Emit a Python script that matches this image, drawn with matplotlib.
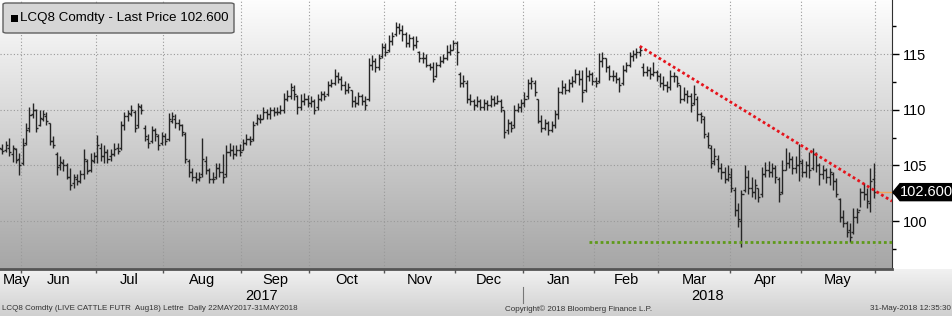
import numpy as np
import pandas as pd
import matplotlib
matplotlib.use("Agg")
import matplotlib.pyplot as plt
import matplotlib.transforms as mtransforms
from matplotlib.patches import FancyBboxPatch, Polygon

plt.rcParams['font.family'] = ['Liberation Sans', 'DejaVu Sans']

# jours de bourse (CME) du 22 mai 2017 au 31 mai 2018
holidays = ['2017-05-29', '2017-07-04', '2017-09-04', '2017-11-23', '2017-12-25',
            '2018-01-01', '2018-01-15', '2018-02-19', '2018-03-30', '2018-05-28']
dates = pd.bdate_range('2017-05-22', '2018-05-31')
dates = dates[~dates.isin(pd.to_datetime(holidays))]

# OHLC (LCQ8)
open_ = [106.9, 106.5, 106.4, 106.6, 106.0, 106.5, 105.6,
         105.2, 107.0, 108.4, 109.6, 110.0, 108.6, 109.2, 109.4, 108.8, 107.2, 106.0, 105.0, 105.2, 105.0,
         104.0, 103.4, 103.8, 103.6, 104.2, 105.4, 104.6, 105.4,
         105.8, 106.6, 105.8, 106.2, 105.8, 106.0, 106.6, 106.6, 108.6, 109.4, 109.6, 109.8, 108.6, 110.2,
         108.4, 107.4, 107.2, 108.2, 107.6, 107.0,
         107.6, 107.4, 109.0, 109.2, 108.8, 108.6, 107.8, 105.4, 104.4, 104.0, 103.8, 104.2, 105.4, 104.6,
         103.8, 104.0, 104.8, 104.4, 104.2, 106.2, 106.4, 106.0, 106.4,
         106.4, 107.0, 107.4, 107.4, 108.8, 109.2, 109.2, 109.8, 109.6, 110.0, 109.8, 109.8, 110.0, 111.0,
         111.2, 111.8, 111.2, 110.2, 110.8, 111.0,
         110.6, 110.8, 110.2, 111.0, 111.4, 111.4, 112.2, 112.4, 113.0, 112.8, 112.2, 111.8, 111.8, 110.8,
         110.6, 111.2, 110.8, 111.0, 114.0, 114.4, 113.8, 114.8,
         115.6, 115.4, 116.2, 116.8, 117.4, 117.2, 116.8, 116.0, 116.4, 115.8, 115.2, 114.6, 114.6, 114.0,
         113.8, 113.0, 114.0, 114.4, 114.6, 115.2, 115.4,
         116.0, 113.2, 112.4, 112.4, 111.0, 110.8, 110.4, 110.8, 110.2, 110.6, 110.4, 111.0, 110.6, 110.8,
         110.0, 108.2, 108.8, 108.6, 110.0, 110.2,
         110.6, 111.2, 112.4, 112.4, 111.0, 109.0, 108.4, 108.8, 108.2, 108.6, 109.6, 111.6, 112.0, 111.8,
         112.4, 112.6, 113.2, 112.8, 111.8, 113.0, 113.2,
         112.6, 112.6, 114.4, 114.6, 113.8, 113.0, 113.0, 112.8, 112.4, 113.6, 114.0, 114.8, 115.0, 115.2,
         113.8, 113.4, 113.6, 113.2, 113.4,
         113.0, 112.4, 112.2, 112.0, 113.0, 113.0, 112.2, 111.0, 111.4, 111.2, 110.6, 111.0, 109.6, 109.2,
         107.6, 106.6, 105.4, 105.6, 104.8, 104.4, 103.8,
         104.0, 102.8, 101.0, 100.0, 102.8, 104.0, 103.0, 102.6, 103.0, 102.4, 104.2, 104.6, 104.4, 104.8,
         103.8, 102.6, 104.6, 105.2, 105.6, 104.8, 105.0,
         105.2, 104.4, 105.0, 104.8, 106.0, 105.0, 104.2, 104.6, 104.0, 104.2, 103.6, 102.0, 100.4, 99.8,
         99.2, 99.0, 100.4, 101.0, 102.6, 102.4, 101.6, 103.8]
high = [107.1, 106.9, 107.2, 107.5, 106.8, 106.6, 106.1,
        107.5, 108.8, 110.2, 110.6, 110.1, 110.0, 110.0, 109.8, 108.8, 107.6, 106.2, 105.8, 105.6, 105.2,
        104.8, 104.2, 104.2, 104.6, 106.5, 105.6, 106.1, 106.2,
        107.7, 107.0, 106.8, 106.5, 106.5, 107.0, 107.0, 109.0, 109.8, 110.0, 110.4, 110.0, 110.6, 110.5,
        108.6, 107.8, 108.5, 108.4, 107.8, 108.0,
        107.9, 109.7, 109.8, 109.6, 109.2, 108.7, 108.0, 105.6, 104.8, 104.4, 104.4, 107.5, 105.8, 104.8,
        104.4, 105.2, 105.2, 106.0, 106.8, 107.0, 106.8, 106.8, 106.9,
        107.4, 107.8, 107.6, 109.0, 109.6, 109.6, 110.2, 110.1, 110.2, 110.2, 110.2, 110.4, 111.5, 111.8,
        112.4, 112.2, 111.3, 111.4, 111.5, 111.3,
        111.2, 111.0, 111.4, 111.7, 111.7, 112.6, 112.8, 113.7, 113.4, 113.0, 112.6, 112.4, 111.8, 111.2,
        111.6, 111.4, 111.2, 114.6, 114.9, 114.6, 115.0, 116.0,
        116.0, 116.7, 117.0, 117.9, 117.8, 117.6, 117.0, 116.8, 116.6, 116.6, 115.3, 115.2, 115.0, 114.2,
        114.3, 114.3, 114.8, 115.0, 115.8, 115.9, 116.3,
        116.2, 113.4, 113.1, 112.7, 111.4, 111.0, 111.2, 111.0, 111.0, 110.9, 111.3, 111.2, 111.3, 111.0,
        110.0, 109.2, 109.0, 110.4, 110.6, 111.0,
        111.6, 112.8, 112.9, 112.7, 111.0, 109.5, 109.2, 109.0, 109.0, 110.0, 112.0, 112.7, 112.4, 112.8,
        113.0, 113.7, 113.6, 113.6, 113.8, 113.6, 113.4,
        112.9, 115.1, 115.2, 114.6, 114.0, 113.6, 113.4, 112.9, 114.0, 114.3, 115.2, 115.4, 115.5, 115.7,
        114.2, 113.9, 113.8, 114.3, 113.6,
        113.3, 113.0, 112.6, 113.6, 113.4, 113.0, 112.2, 112.0, 111.8, 111.5, 112.2, 111.2, 109.8, 109.4,
        108.0, 106.8, 106.6, 105.9, 105.2, 104.9, 105.0,
        104.8, 103.1, 101.6, 102.8, 105.0, 104.6, 104.0, 103.8, 103.0, 104.9, 105.3, 105.4, 105.2, 105.0,
        104.0, 105.5, 106.6, 106.2, 105.8, 105.8, 106.9,
        105.6, 105.4, 106.2, 106.6, 106.2, 105.2, 105.0, 104.8, 104.8, 104.4, 103.9, 102.1, 101.0, 100.0,
        99.8, 101.2, 101.2, 103.0, 103.4, 103.0, 104.8, 105.2]
low = [106.2, 106.0, 106.2, 105.8, 105.3, 105.2, 104.1,
       105.0, 106.8, 108.0, 109.3, 108.0, 108.5, 109.0, 108.6, 106.8, 106.6, 104.1, 104.6, 104.5, 103.8,
       102.8, 103.0, 103.2, 103.4, 103.8, 104.2, 104.4, 105.2,
       105.2, 105.4, 105.2, 105.2, 105.4, 105.8, 106.0, 106.4, 108.2, 109.0, 109.4, 108.0, 108.4, 109.6,
       107.2, 106.6, 107.0, 107.2, 106.4, 106.8,
       106.8, 107.2, 108.8, 108.4, 108.2, 107.6, 105.2, 104.0, 103.6, 103.4, 103.6, 104.0, 104.2, 103.4,
       103.4, 103.8, 104.0, 103.4, 104.0, 105.8, 105.6, 105.8, 105.8,
       106.4, 106.8, 106.8, 107.2, 108.6, 108.8, 109.2, 109.2, 109.2, 109.4, 109.5, 109.6, 109.7, 110.8,
       111.0, 110.9, 109.6, 110.0, 110.4, 110.2,
       110.2, 109.6, 110.0, 110.8, 110.9, 111.2, 112.0, 112.2, 112.4, 111.8, 111.4, 111.5, 110.2, 110.2,
       110.4, 110.4, 110.0, 110.8, 113.6, 113.4, 113.6, 114.6,
       114.8, 115.2, 115.8, 116.6, 116.8, 116.2, 115.6, 115.6, 115.4, 115.5, 114.3, 114.2, 113.8, 113.6,
       112.5, 112.9, 113.8, 114.2, 114.5, 114.9, 115.4,
       114.0, 112.0, 112.0, 110.6, 110.4, 110.0, 110.2, 110.0, 110.0, 110.0, 110.2, 110.3, 110.5, 109.8,
       107.5, 107.8, 108.0, 108.4, 109.8, 109.8,
       110.2, 111.0, 111.9, 111.2, 108.8, 108.0, 108.2, 107.7, 108.0, 108.4, 109.2, 111.4, 111.4, 111.6,
       112.0, 112.4, 112.2, 110.7, 111.6, 112.6, 112.2,
       112.0, 112.4, 113.8, 113.4, 112.7, 112.6, 112.4, 111.6, 112.2, 113.4, 113.8, 114.4, 114.6, 114.8,
       113.0, 113.0, 112.8, 113.0, 112.6,
       112.0, 111.8, 111.6, 111.8, 112.5, 112.0, 110.6, 110.8, 110.6, 109.8, 110.4, 109.0, 108.8, 107.5,
       106.6, 104.8, 105.0, 104.4, 103.8, 103.4, 103.6,
       102.6, 100.5, 99.5, 97.7, 102.6, 102.4, 102.2, 102.0, 101.7, 102.2, 104.0, 104.0, 104.0, 103.4,
       101.7, 102.4, 104.6, 104.8, 104.2, 104.3, 103.6,
       104.0, 104.0, 103.9, 104.6, 104.4, 103.2, 103.8, 103.4, 103.2, 102.8, 102.2, 99.9, 99.5, 98.6,
       98.1, 98.8, 99.8, 101.3, 101.9, 101.2, 100.8, 102.1]
close = [106.6, 106.3, 106.8, 106.2, 106.6, 105.5, 105.0,
         106.8, 108.2, 109.5, 110.0, 108.4, 109.3, 109.6, 109.0, 107.2, 106.8, 104.9, 105.3, 105.0, 104.0,
         103.2, 104.0, 103.6, 104.2, 105.6, 104.5, 105.5, 105.8,
         106.8, 105.8, 106.2, 105.6, 106.0, 106.5, 106.3, 108.6, 109.4, 109.7, 110.0, 108.4, 110.3, 110.0,
         107.6, 107.0, 108.2, 107.8, 106.8, 107.6,
         107.2, 109.2, 109.4, 108.8, 108.6, 108.0, 105.6, 104.4, 104.0, 103.8, 104.0, 105.6, 104.6, 103.8,
         103.8, 104.8, 104.4, 104.0, 106.2, 106.4, 106.0, 106.4, 106.2,
         107.0, 107.4, 107.2, 108.6, 109.3, 109.2, 109.8, 109.6, 110.0, 109.8, 109.8, 110.0, 111.0, 111.2,
         112.0, 111.4, 110.2, 110.8, 111.0, 110.6,
         110.8, 110.0, 111.0, 111.4, 111.2, 112.2, 112.4, 113.0, 112.8, 112.2, 111.8, 112.0, 110.8, 110.6,
         111.2, 110.8, 110.4, 114.0, 114.4, 113.8, 114.6, 115.6,
         115.2, 116.2, 116.6, 117.4, 117.2, 116.8, 116.0, 116.4, 115.8, 116.2, 114.6, 114.6, 114.0, 113.8,
         112.8, 114.0, 114.4, 114.6, 115.2, 115.4, 116.0,
         115.2, 112.4, 112.6, 111.0, 110.8, 110.4, 110.8, 110.2, 110.6, 110.4, 111.0, 110.6, 110.8, 110.2,
         108.0, 108.8, 108.4, 110.0, 110.2, 110.6,
         111.0, 112.4, 112.6, 111.6, 109.0, 108.4, 108.8, 108.2, 108.6, 109.6, 111.6, 112.0, 111.8, 112.4,
         112.6, 113.2, 112.8, 111.6, 113.0, 113.2, 112.6,
         112.4, 114.4, 114.6, 113.8, 113.0, 113.0, 112.8, 112.2, 113.6, 114.0, 114.8, 115.0, 115.2, 115.4,
         113.4, 113.6, 113.2, 113.4, 113.0,
         112.4, 112.2, 112.0, 113.0, 113.0, 112.4, 111.0, 111.4, 111.2, 110.4, 111.4, 109.6, 109.4, 107.8,
         106.8, 105.2, 105.8, 104.8, 104.4, 103.8, 104.2,
         103.0, 101.0, 100.2, 102.4, 104.0, 103.0, 102.6, 103.2, 102.2, 104.2, 104.6, 104.4, 104.8, 104.0,
         102.4, 104.6, 105.2, 105.6, 104.8, 105.0, 105.4,
         104.4, 105.0, 104.6, 106.0, 105.0, 104.2, 104.6, 104.0, 104.4, 103.6, 102.4, 100.4, 99.8, 99.0,
         98.6, 100.4, 100.8, 102.6, 102.4, 101.8, 103.6, 102.6]

last_price = 102.6
# lignes tracees a la main : oblique depuis le sommet de fevrier, support horizontal
trend_date, trend_start, trend_slope = '2018-02-21', 115.7, -0.187
support_date, support_level = '2018-01-30', 98.1

W, H = 953, 316
fig = plt.figure(figsize=(W / 100, H / 100), dpi=100)
fig.patch.set_facecolor('white')
cmap = matplotlib.colors.LinearSegmentedColormap.from_list

# bande de l'axe des x (degrade)
bg = fig.add_axes([0, 0, 1, 1 - 269 / H])
bg.imshow(np.linspace(0, 1, 64).reshape(-1, 1), cmap=cmap('band', ['#f2f2f2', '#d0d0d0']),
          aspect='auto', extent=(0, 1, 0, 1), origin='upper')
bg.set_axis_off()

ax = fig.add_axes([0, 1 - 269 / H, 892 / W, 269 / H])
x = np.arange(len(dates))
xmin, xmax = 0.3, 263.4
ymin, ymax = 95.7, 119.85

ax.imshow(np.linspace(0, 1, 128).reshape(-1, 1), cmap=cmap('plot', ['#fdfdfd', '#a6a6a6']), aspect='auto',
          extent=(xmin, xmax, ymin, ymax), origin='upper', zorder=0)

# limites de mois
pos = pd.Series(x, index=dates)
month_starts = [pos[pos.index.to_period('M') == p].iloc[0] for p in dates.to_period('M').unique()[1:]]
bounds = [m - 0.5 for m in month_starts] + [len(dates) - 0.5]
for b in bounds:
    ax.axvline(b, color='#999999', lw=0.8, ls=(0, (1, 2)), zorder=1)
for lvl in [100, 105, 110, 115]:
    ax.axhline(lvl, color='#999999', lw=0.8, ls=(0, (1, 2)), zorder=1)

# barres OHLC
bar_col = '#262626'
ax.vlines(x, low, high, color=bar_col, lw=1.0, zorder=3)
ax.hlines(open_, x - 0.6, x, color=bar_col, lw=1.0, zorder=3)
ax.hlines(close, x, x + 0.6, color=bar_col, lw=1.0, zorder=3)

# oblique rouge et support vert
i0 = pos[pd.Timestamp(trend_date)]
tx = np.array([i0, xmax])
ax.plot(tx, trend_start + trend_slope * (tx - i0), color='#e5141c', lw=2, ls=(0, (1, 1)), zorder=4)
s0 = pos[pd.Timestamp(support_date)]
ax.plot([s0, xmax], [support_level, support_level], color='#5f9a1a', lw=2, ls=(0, (1, 1)), zorder=4)

# dernier prix
ax.plot([x[-1], xmax], [last_price, last_price], color='#f2a65a', lw=1, zorder=2)

ax.set_xlim(xmin, xmax)
ax.set_ylim(ymin, ymax)

# etiquette noire du dernier prix sur l'axe
yp = H - ax.transData.transform((xmax, last_price))[1]
tag = [(893, yp), (900, yp - 8.5), (952, yp - 8.5), (952, yp + 8.5), (900, yp + 8.5)]
fig.patches.append(Polygon([(px / W, 1 - py / H) for px, py in tag], closed=True,
                           transform=fig.transFigure, fc='black', ec='black'))
fig.text(926 / W, 1 - yp / H, '{:.3f}'.format(last_price), color='white', fontsize=10.5,
         ha='center', va='center')

# axe de droite
ax.yaxis.tick_right()
ax.set_yticks([100, 105, 110, 115])
ax.set_yticks([97.5, 102.5, 107.5, 112.5, 117.5], minor=True)
ax.tick_params(axis='y', which='major', length=5, width=1, pad=3, labelsize=10.5, colors='black')
ax.tick_params(axis='y', which='minor', length=3, width=1)
for s in ['left', 'top']:
    ax.spines[s].set_visible(False)
ax.spines['right'].set_color('#303030')
ax.spines['bottom'].set_color('#555555')
ax.spines['bottom'].set_linewidth(2)

# axe des x : mois et annees
ax.set_xticks(bounds)
ax.set_xticklabels([])
ax.tick_params(axis='x', length=3, width=1, colors='#555555')
months = dates.to_period('M').unique()
edges = [xmin + 5] + bounds
trx = mtransforms.blended_transform_factory(ax.transData, ax.transAxes)
for j, m in enumerate(months):
    cx = (edges[j] + edges[j + 1]) / 2 if j > 0 else edges[0]
    ax.text(cx, -11 / 269, m.strftime('%b'), transform=trx, ha='center', va='center',
            fontsize=10.5, clip_on=False)
jan = bounds[7]
ax.text((xmin + jan) / 2, -27 / 269, '2017', transform=trx, ha='center', va='center', fontsize=10.5)
ax.text((jan + xmax) / 2, -27 / 269, '2018', transform=trx, ha='center', va='center', fontsize=10.5)
ax.plot([jan, jan], [-18 / 269, -34 / 269], transform=trx, color='#777777', lw=0.8, clip_on=False)

# legende
fig.patches.append(FancyBboxPatch((3 / W, 1 - 33 / H), 231 / W, 30 / H,
                                  boxstyle='round,pad=0,rounding_size=0.004', transform=fig.transFigure,
                                  fc='#d6d6d6', ec='#606060', lw=1))
fig.patches.append(FancyBboxPatch((11 / W, 1 - 22 / H), 7 / W, 7 / H, boxstyle='square,pad=0',
                                  transform=fig.transFigure, fc='black', ec='black', lw=0))
fig.text(20 / W, 1 - 18 / H, 'LCQ8 Comdty - Last Price 102.600', fontsize=9.6, va='center', ha='left')

# pied de page
fig.text(2 / W, 1 - 309 / H, 'LCQ8 Comdty (LIVE CATTLE FUTR  Aug18) Lettre  Daily 22MAY2017-31MAY2018',
         fontsize=5.8, va='center', ha='left', color='#333333')
fig.text(505 / W, 1 - 309 / H, 'Copyright\u00a9 2018 Bloomberg Finance L.P.', fontsize=5.8, va='center',
         ha='left', color='#333333')
fig.text(951 / W, 1 - 309 / H, '31-May-2018 12:35:30', fontsize=5.8, va='center', ha='right', color='#333333')

fig.savefig('out.png', dpi=100)
